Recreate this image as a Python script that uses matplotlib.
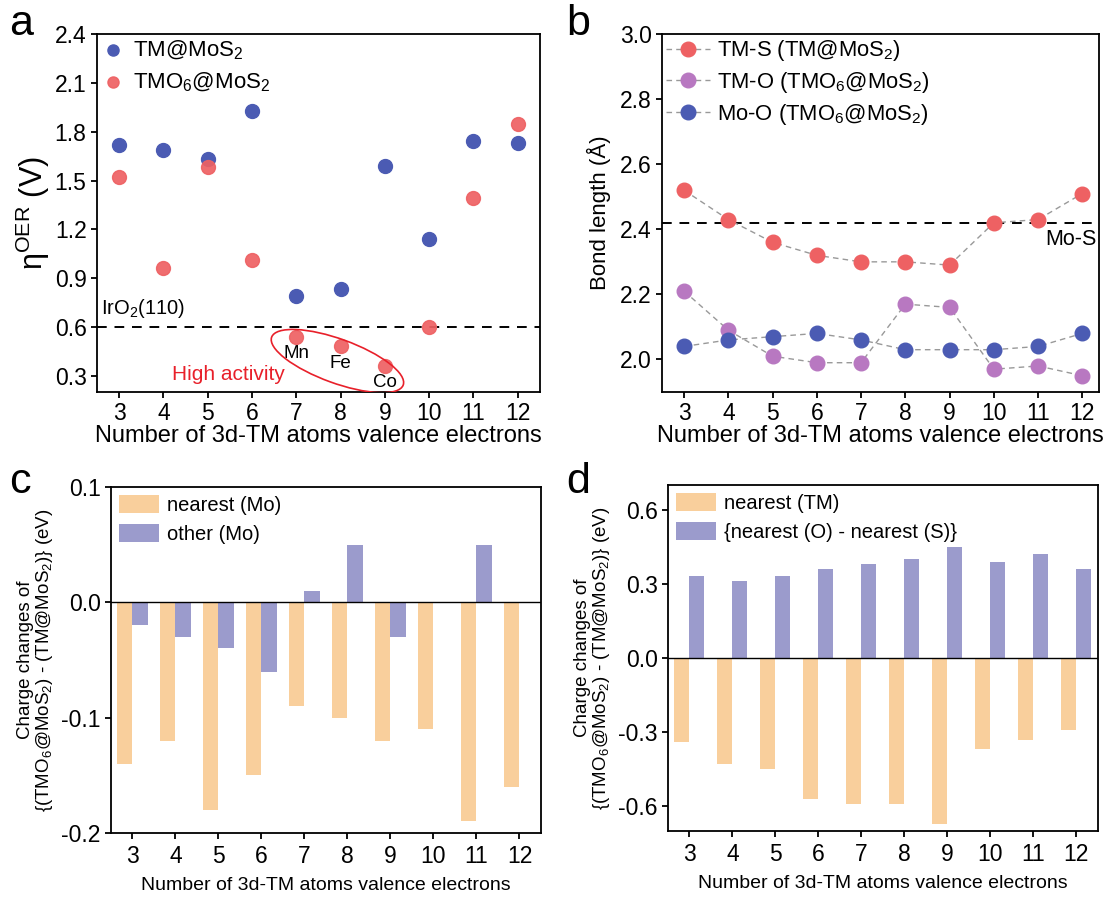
import matplotlib
matplotlib.use('Agg')
import matplotlib.pyplot as plt
import matplotlib.transforms as mtransforms
from matplotlib.patches import Ellipse

# Four panels: overpotential, bond lengths and two charge-change bar charts.

electrons = [3, 4, 5, 6, 7, 8, 9, 10, 11, 12]

# (a) OER overpotential (V)
eta_tm = [1.72, 1.69, 1.63, 1.93, 0.79, 0.83, 1.59, 1.14, 1.74, 1.73]
eta_tmo6 = [1.52, 0.96, 1.58, 1.01, 0.54, 0.48, 0.36, 0.60, 1.39, 1.85]
iro2_ref = 0.60
active_labels = ['Mn', 'Fe', 'Co']
active_x = [7, 8, 9]

# (b) bond lengths (Angstrom)
tm_s = [2.52, 2.43, 2.36, 2.32, 2.30, 2.30, 2.29, 2.42, 2.43, 2.51]
tm_o = [2.21, 2.09, 2.01, 1.99, 1.99, 2.17, 2.16, 1.97, 1.98, 1.95]
mo_o = [2.04, 2.06, 2.07, 2.08, 2.06, 2.03, 2.03, 2.03, 2.04, 2.08]
mo_s_ref = 2.42

# (c) charge changes on Mo
nearest_mo = [-0.14, -0.12, -0.18, -0.15, -0.09, -0.10, -0.12, -0.11, -0.19, -0.16]
other_mo = [-0.02, -0.03, -0.04, -0.06, 0.01, 0.05, -0.03, 0.0, 0.05, 0.0]

# (d) charge changes on TM and O/S
nearest_tm = [-0.34, -0.43, -0.45, -0.57, -0.59, -0.59, -0.67, -0.37, -0.33, -0.29]
o_minus_s = [0.33, 0.31, 0.33, 0.36, 0.38, 0.40, 0.45, 0.39, 0.42, 0.36]

BLUE = '#4b5bb3'
RED = '#ee6163'
PURPLE = '#b878c1'
ORANGE = '#f9cf9c'
LAVENDER = '#9b9bcc'

plt.rcParams['font.family'] = ['Liberation Sans', 'DejaVu Sans']
plt.rcParams['mathtext.fontset'] = 'custom'
plt.rcParams['mathtext.rm'] = 'Liberation Sans'
plt.rcParams['mathtext.it'] = 'Liberation Sans:italic'
plt.rcParams['axes.unicode_minus'] = False
plt.rcParams['axes.linewidth'] = 1.3
plt.rcParams['xtick.major.width'] = 1.3
plt.rcParams['ytick.major.width'] = 1.3
plt.rcParams['xtick.major.size'] = 4
plt.rcParams['ytick.major.size'] = 4

fig = plt.figure(figsize=(11.04, 8.97), dpi=100)

ax_a = fig.add_axes([0.0879, 0.563, 0.401, 0.399])
ax_b = fig.add_axes([0.5996, 0.563, 0.396, 0.399])
ax_c = fig.add_axes([0.1005, 0.0714, 0.3895, 0.3857])
ax_d = fig.add_axes([0.605, 0.0736, 0.3895, 0.3857])

xlabel = 'Number of 3d-TM atoms valence electrons'

################################################################################
# (a)

ax_a.scatter(electrons, eta_tm, s=100, color=BLUE, label='TM@MoS$_2$', zorder=3)
ax_a.scatter(electrons, eta_tmo6, s=100, color=RED, alpha=0.92,
             label='TMO$_6$@MoS$_2$', zorder=4)
ax_a.axhline(iro2_ref, color='black', lw=1.4, dashes=[5, 4], zorder=2)
ax_a.text(2.6, iro2_ref + 0.04, 'IrO$_2$(110)', fontsize=14.5, va='bottom')
for lab, x, y in zip(active_labels, active_x, eta_tmo6[4:7]):
    ax_a.text(x, y - 0.05, lab, fontsize=13.5, ha='center', va='top')
ax_a.text(5.47, 0.31, 'High activity', color='#e8202a', fontsize=15,
          ha='center', va='center')
ell_tr = fig.dpi_scale_trans + mtransforms.ScaledTranslation(7.93, 0.39, ax_a.transData)
ax_a.add_patch(Ellipse((0, 0), 1.40, 0.44, angle=-20, transform=ell_tr,
                       fill=False, edgecolor='#e8202a', lw=1.2, zorder=5))

ax_a.set_xlim(2.5, 12.5)
ax_a.set_ylim(0.2, 2.4)
ax_a.set_xticks(electrons)
ax_a.set_yticks([0.3, 0.6, 0.9, 1.2, 1.5, 1.8, 2.1, 2.4])
ax_a.yaxis.set_major_formatter(matplotlib.ticker.FormatStrFormatter('%.1f'))
ax_a.tick_params(labelsize=16.5)
ax_a.set_xlabel(xlabel, fontsize=17, labelpad=0)
ax_a.set_ylabel('η$^{\\mathrm{OER}}$ (V)', fontsize=22, labelpad=2)
ax_a.legend(loc='upper left', fontsize=16, frameon=False, handletextpad=0.4,
            borderaxespad=0.0, borderpad=0.2, labelspacing=0.4,
            markerscale=0.8, handlelength=1.0)

################################################################################
# (b)

line_kw = dict(ls='--', color='#999999', lw=1.0, marker='o', markersize=10.5,
               dashes=[4, 3])
ax_b.plot(electrons, tm_s, markerfacecolor=RED, markeredgecolor=RED,
          label='TM-S (TM@MoS$_2$)', **line_kw)
ax_b.plot(electrons, tm_o, markerfacecolor=PURPLE, markeredgecolor=PURPLE,
          label='TM-O (TMO$_6$@MoS$_2$)', **line_kw)
ax_b.plot(electrons, mo_o, markerfacecolor=BLUE, markeredgecolor=BLUE,
          label='Mo-O (TMO$_6$@MoS$_2$)', **line_kw)
ax_b.axhline(mo_s_ref, color='black', lw=1.4, dashes=[5, 4], zorder=1)
ax_b.text(12.33, mo_s_ref - 0.02, 'Mo-S', fontsize=15.5, ha='right', va='top')

ax_b.set_xlim(2.5, 12.38)
ax_b.set_ylim(1.9, 3.0)
ax_b.set_xticks(electrons)
ax_b.set_yticks([2.0, 2.2, 2.4, 2.6, 2.8, 3.0])
ax_b.yaxis.set_major_formatter(matplotlib.ticker.FormatStrFormatter('%.1f'))
ax_b.tick_params(labelsize=16.5)
ax_b.set_xlabel(xlabel, fontsize=17, labelpad=0)
ax_b.set_ylabel('Bond length (Å)', fontsize=16, labelpad=6)
ax_b.legend(loc='upper left', fontsize=15.8, frameon=False, handlelength=2.0,
            handletextpad=0.3, borderaxespad=0.0, labelspacing=0.3,
            borderpad=0.2)

################################################################################
# (c) and (d)

width = 0.35
charge_label = ('Charge changes of\n'
                '{(TMO$_6$@MoS$_2$) - (TM@MoS$_2$)} (eV)')


def charge_panel(ax, neg, pos, neg_label, pos_label, ylim, yticks):
    ax.bar([x - width / 2 for x in electrons], neg, width, color=ORANGE,
           label=neg_label)
    ax.bar([x + width / 2 for x in electrons], pos, width, color=LAVENDER,
           label=pos_label)
    ax.axhline(0, color='black', lw=1.0)
    ax.set_xlim(2.5, 12.5)
    ax.set_ylim(*ylim)
    ax.set_xticks(electrons)
    ax.set_yticks(yticks)
    ax.yaxis.set_major_formatter(matplotlib.ticker.FormatStrFormatter('%.1f'))
    ax.tick_params(labelsize=16.5)
    ax.tick_params(axis='x', pad=5)
    ax.set_xlabel(xlabel, fontsize=14, labelpad=6)
    ax.set_ylabel(charge_label, fontsize=13.5, labelpad=4, linespacing=1.05)
    ax.legend(loc='upper left', fontsize=14.5, frameon=False, handlelength=2.0,
              handleheight=1.0, handletextpad=0.4, borderaxespad=0.1,
              borderpad=0.3, labelspacing=0.45)


charge_panel(ax_c, nearest_mo, other_mo, 'nearest (Mo)', 'other (Mo)',
             (-0.2, 0.1), [-0.2, -0.1, 0.0, 0.1])
charge_panel(ax_d, nearest_tm, o_minus_s, 'nearest (TM)',
             '{nearest (O) - nearest (S)}', (-0.7, 0.7),
             [-0.6, -0.3, 0.0, 0.3, 0.6])

################################################################################
# panel letters

for x, y, s in [(0.008, 0.995, 'a'), (0.513, 0.995, 'b'),
                (0.008, 0.485, 'c'), (0.513, 0.485, 'd')]:
    fig.text(x, y, s, fontsize=31, va='top', ha='left')

fig.savefig('out.png', dpi=100)
